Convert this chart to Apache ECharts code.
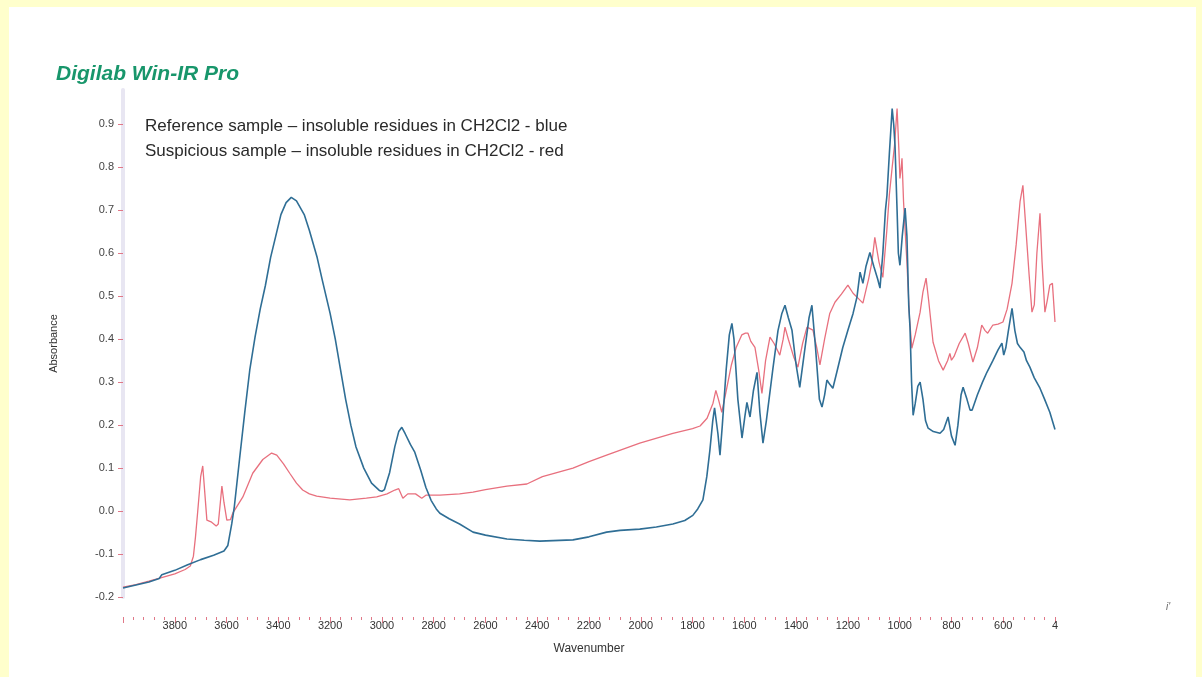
<!DOCTYPE html>
<html>
<head>
<meta charset="utf-8">
<script src="https://cdn.jsdelivr.net/npm/echarts@6/dist/echarts.min.js"></script>
<style>
  html, body { margin: 0; padding: 0; background: #ffffcc; }
  #spectrum { width: 1202px; height: 677px; }
</style>
</head>
<body>
<div id="spectrum"></div>
<script>
// reference sample (blue): wavenumber / absorbance
var blueWn = [4000, 3950, 3900, 3860, 3850, 3800, 3750, 3700, 3650, 3610, 3595, 3580, 3570, 3550, 3530, 3510, 3490, 3470, 3450, 3430, 3410, 3390, 3370, 3350, 3330, 3300, 3280, 3250, 3230, 3200, 3180, 3160, 3140, 3120, 3100, 3070, 3040, 3010, 3000, 2990, 2970, 2950, 2935, 2923, 2910, 2890, 2873, 2850, 2830, 2810, 2790, 2776, 2740, 2700, 2648, 2600, 2517, 2450, 2390, 2262, 2200, 2132, 2080, 2004, 1940, 1876, 1830, 1799, 1780, 1760, 1745, 1733, 1722, 1715, 1710, 1702, 1694, 1685, 1670, 1658, 1648, 1640, 1625, 1609, 1598, 1590, 1578, 1565, 1551, 1540, 1528, 1515, 1490, 1470, 1455, 1443, 1430, 1416, 1400, 1386, 1370, 1350, 1339, 1325, 1310, 1300, 1290, 1281, 1270, 1258, 1240, 1220, 1200, 1180, 1165, 1153, 1142, 1130, 1115, 1100, 1085, 1076, 1065, 1055, 1049, 1040, 1029, 1023, 1018, 1010, 1005, 999, 990, 979, 972, 965, 960, 954, 948, 940, 930, 921, 910, 900, 890, 870, 844, 830, 813, 800, 786, 775, 763, 755, 740, 728, 720, 700, 680, 663, 640, 620, 605, 598, 590, 580, 566, 555, 545, 535, 520, 510, 497, 480, 458, 440, 420, 400];
var blueAbs = [-0.179, -0.172, -0.165, -0.157, -0.148, -0.138, -0.125, -0.113, -0.103, -0.093, -0.08, -0.03, 0.01, 0.12, 0.228, 0.33, 0.405, 0.47, 0.525, 0.59, 0.64, 0.69, 0.718, 0.73, 0.722, 0.69, 0.653, 0.59, 0.537, 0.46, 0.4, 0.33, 0.26, 0.2, 0.149, 0.1, 0.065, 0.048, 0.046, 0.05, 0.09, 0.15, 0.185, 0.195, 0.18, 0.155, 0.137, 0.095, 0.055, 0.025, 0.005, -0.005, -0.018, -0.03, -0.049, -0.056, -0.065, -0.068, -0.07, -0.067, -0.06, -0.049, -0.045, -0.042, -0.037, -0.03, -0.022, -0.01, 0.005, 0.026, 0.08, 0.142, 0.21, 0.24, 0.242, 0.18, 0.13, 0.2, 0.33, 0.41, 0.437, 0.4, 0.26, 0.17, 0.22, 0.253, 0.219, 0.28, 0.323, 0.23, 0.158, 0.21, 0.33, 0.42, 0.46, 0.479, 0.45, 0.421, 0.34, 0.288, 0.36, 0.45, 0.479, 0.38, 0.26, 0.242, 0.27, 0.305, 0.295, 0.286, 0.33, 0.38, 0.421, 0.46, 0.498, 0.556, 0.53, 0.57, 0.602, 0.57, 0.54, 0.519, 0.6, 0.7, 0.735, 0.83, 0.937, 0.9, 0.851, 0.7, 0.6, 0.572, 0.64, 0.705, 0.64, 0.48, 0.426, 0.3, 0.223, 0.25, 0.29, 0.3, 0.26, 0.21, 0.193, 0.185, 0.181, 0.19, 0.219, 0.175, 0.153, 0.2, 0.27, 0.288, 0.26, 0.235, 0.235, 0.27, 0.3, 0.323, 0.35, 0.375, 0.391, 0.363, 0.38, 0.42, 0.472, 0.42, 0.39, 0.381, 0.37, 0.35, 0.335, 0.31, 0.286, 0.26, 0.23, 0.19];

// suspicious sample (red): wavenumber / absorbance
var redWn = [4000, 3950, 3900, 3858, 3800, 3760, 3740, 3728, 3720, 3712, 3700, 3692, 3685, 3676, 3660, 3640, 3632, 3624, 3618, 3610, 3599, 3585, 3576, 3537, 3499, 3460, 3426, 3406, 3380, 3356, 3330, 3306, 3280, 3252, 3200, 3124, 3060, 3020, 2980, 2950, 2935, 2919, 2900, 2870, 2846, 2830, 2776, 2700, 2648, 2600, 2517, 2440, 2380, 2262, 2200, 2132, 2004, 1876, 1800, 1771, 1744, 1721, 1710, 1700, 1687, 1670, 1650, 1632, 1610, 1596, 1586, 1575, 1559, 1545, 1532, 1518, 1501, 1485, 1463, 1450, 1443, 1430, 1410, 1393, 1375, 1358, 1335, 1320, 1308, 1290, 1270, 1250, 1225, 1200, 1180, 1160, 1142, 1128, 1120, 1107, 1096, 1080, 1065, 1050, 1040, 1029, 1020, 1010, 1003, 999, 994, 991, 985, 972, 962, 953, 940, 921, 910, 898, 888, 871, 850, 832, 815, 806, 800, 790, 770, 747, 735, 717, 700, 683, 670, 660, 640, 620, 601, 585, 566, 550, 535, 524, 515, 500, 489, 480, 470, 458, 450, 439, 430, 420, 410, 400];
var redAbs = [-0.177, -0.171, -0.163, -0.156, -0.146, -0.136, -0.128, -0.105, -0.06, -0.005, 0.08, 0.105, 0.05, -0.021, -0.025, -0.035, -0.03, 0.02, 0.058, 0.02, -0.021, -0.02, -0.005, 0.033, 0.088, 0.12, 0.135, 0.13, 0.11, 0.088, 0.065, 0.049, 0.04, 0.035, 0.03, 0.026, 0.03, 0.033, 0.04, 0.049, 0.052, 0.03, 0.04, 0.04, 0.03, 0.037, 0.037, 0.04, 0.044, 0.05, 0.058, 0.063, 0.08, 0.1, 0.115, 0.13, 0.158, 0.181, 0.192, 0.198, 0.216, 0.251, 0.281, 0.26, 0.23, 0.28, 0.34, 0.38, 0.41, 0.414, 0.414, 0.395, 0.381, 0.33, 0.274, 0.35, 0.405, 0.39, 0.363, 0.4, 0.428, 0.4, 0.36, 0.335, 0.39, 0.428, 0.421, 0.38, 0.34, 0.4, 0.46, 0.486, 0.505, 0.526, 0.507, 0.495, 0.484, 0.52, 0.54, 0.58, 0.637, 0.58, 0.544, 0.65, 0.735, 0.8, 0.85, 0.937, 0.84, 0.774, 0.8, 0.821, 0.72, 0.579, 0.45, 0.379, 0.41, 0.463, 0.51, 0.542, 0.49, 0.393, 0.35, 0.328, 0.35, 0.367, 0.351, 0.36, 0.39, 0.414, 0.39, 0.347, 0.38, 0.433, 0.42, 0.414, 0.433, 0.435, 0.44, 0.47, 0.53, 0.62, 0.72, 0.758, 0.68, 0.55, 0.463, 0.48, 0.6, 0.693, 0.58, 0.463, 0.49, 0.526, 0.53, 0.44];

var yTicks = [-0.2, -0.1, 0, 0.1, 0.2, 0.3, 0.4, 0.5, 0.6, 0.7, 0.8, 0.9];
var legendLines = [
  "Reference sample \u2013 insoluble residues in CH2Cl2 - blue",
  "Suspicious sample \u2013 insoluble residues in CH2Cl2 - red"
];

function pairs(xs, ys) {
  var out = [];
  for (var i = 0; i < xs.length; i++) out.push([xs[i], ys[i]]);
  return out;
}

var tickRed = "#e07888";
var myChart = echarts.init(document.getElementById("spectrum"));
myChart.setOption({
  animation: false,
  backgroundColor: "#ffffcc",
  textStyle: { fontFamily: "Liberation Sans, Arial, sans-serif" },
  title: {
    text: "Digilab Win-IR Pro",
    left: 51,
    top: 59,
    textStyle: { color: "#18966b", fontSize: 21, fontWeight: "bold", fontStyle: "italic" }
  },
  graphic: [
    { type: "rect", z: -10, shape: { x: 9, y: 7, width: 1187, height: 670 }, style: { fill: "#ffffff" } },
    { type: "text", left: 145, top: 118, style: { text: legendLines[0], fill: "#2a2a2a", font: "17px Liberation Sans, Arial, sans-serif" } },
    { type: "text", left: 145, top: 143, style: { text: legendLines[1], fill: "#2a2a2a", font: "17px Liberation Sans, Arial, sans-serif" } },
    { type: "text", left: 1166, top: 602, style: { text: "i'", fill: "#666", font: "italic 10px Liberation Sans, Arial, sans-serif" } }
  ],
  grid: { left: 123, right: 147, top: 90, bottom: 80 },
  xAxis: {
    type: "value",
    inverse: true,
    min: 400,
    max: 4000,
    interval: 200,
    offset: 20,
    name: "Wavenumber",
    nameLocation: "middle",
    nameGap: 26,
    nameTextStyle: { color: "#333", fontSize: 12 },
    axisLine: { show: false, onZero: false },
    axisTick: { show: true, length: 6, lineStyle: { color: tickRed, width: 1 } },
    minorTick: { show: true, splitNumber: 5, length: 3, lineStyle: { color: tickRed, width: 1 } },
    splitLine: { show: false },
    axisLabel: {
      color: "#333",
      fontSize: 11,
      margin: 3,
      formatter: function (v) {
        if (v === 4000) return "";
        if (v === 400) return "4";
        return String(v);
      }
    }
  },
  yAxis: {
    type: "value",
    min: -0.2,
    max: 0.98,
    name: "Absorbance",
    nameLocation: "middle",
    nameGap: 64,
    nameRotate: 90,
    nameTextStyle: { color: "#333", fontSize: 11 },
    axisLine: { show: true, onZero: false, lineStyle: { color: "#e8e6f2", width: 4 } },
    axisTick: { show: true, length: 5, customValues: yTicks, lineStyle: { color: tickRed, width: 1 } },
    axisLabel: {
      color: "#444",
      fontSize: 11,
      margin: 9,
      customValues: yTicks,
      formatter: function (v) { return v.toFixed(1); }
    },
    splitLine: { show: false }
  },
  series: [
    {
      name: "blue",
      type: "line",
      data: pairs(blueWn, blueAbs),
      showSymbol: false,
      clip: false,
      lineStyle: { color: "#2f6e95", width: 1.6 },
      z: 3
    },
    {
      name: "red",
      type: "line",
      data: pairs(redWn, redAbs),
      showSymbol: false,
      clip: false,
      lineStyle: { color: "#e8707e", width: 1.3 },
      z: 2
    }
  ]
});
</script>
</body>
</html>
